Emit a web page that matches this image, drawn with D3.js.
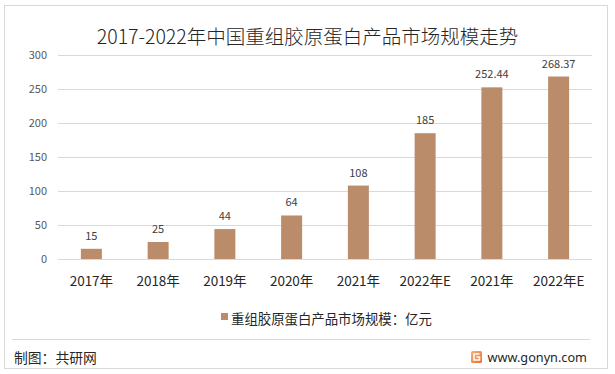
<!DOCTYPE html>
<html>
<head>
<meta charset="utf-8">
<script src="https://cdn.jsdelivr.net/npm/d3@7/dist/d3.min.js"></script>
<style>
  html, body { margin: 0; padding: 0; background: #fff; }
  svg { display: block; font-family: "Noto Sans CJK SC", "Noto Sans", sans-serif; }
</style>
</head>
<body>
<svg id="chart" width="615" height="374"></svg>
<script>
const title = "2017-2022年中国重组胶原蛋白产品市场规模走势";
const categories = ["2017年", "2018年", "2019年", "2020年", "2021年", "2022年E", "2021年", "2022年E"];
const values = [15, 25, 44, 64, 108, 185, 252.44, 268.37];
const yTicks = [0, 50, 100, 150, 200, 250, 300];
const seriesName = "重组胶原蛋白产品市场规模：亿元";
const footerLeft = "制图：共研网";
const footerRight = "www.gonyn.com";

const svg = d3.select("#chart");
const barColor = "#BB8C6A";

// outer border
svg.append("rect").attr("x", 4.5).attr("y", 5.5).attr("width", 603).attr("height", 363)
  .attr("fill", "#fff").attr("stroke", "#D9D9D9").attr("stroke-width", 1);

// title
svg.append("text").attr("x", 307.5).attr("y", 35).attr("text-anchor", "middle")
  .attr("dominant-baseline", "central").attr("font-size", 19.5).attr("fill", "#262626")
  .attr("font-weight", 300)
  .text(title);

const margin = { left: 58, right: 592, top: 55, bottom: 259 };
const x0 = d3.scaleBand().domain(d3.range(categories.length))
  .range([margin.left, margin.right]);
const y = d3.scaleLinear().domain([0, 300]).range([margin.bottom, margin.top]);

// gridlines
svg.append("g").selectAll("line").data(yTicks).join("line")
  .attr("x1", margin.left).attr("x2", margin.right)
  .attr("y1", d => Math.round(y(d)) + 0.5).attr("y2", d => Math.round(y(d)) + 0.5)
  .attr("stroke", "#D9D9D9").attr("stroke-width", 1);

// y axis labels
const yAxis = d3.axisLeft(y).tickValues(yTicks).tickSize(0).tickPadding(0);
const gy = svg.append("g").attr("transform", `translate(${47},0)`).call(yAxis);
gy.select(".domain").remove();
gy.selectAll("text").attr("font-size", 11).attr("fill", "#595959")
  .attr("font-family", "'Noto Sans CJK SC', sans-serif");

// bars
const bw = 21;
svg.append("g").selectAll("rect").data(values).join("rect")
  .attr("x", (d, i) => x0(i) + x0.bandwidth() / 2 - bw / 2)
  .attr("y", d => y(d))
  .attr("width", bw)
  .attr("height", d => y(0) - y(d))
  .attr("fill", barColor);

// value labels
svg.append("g").selectAll("text").data(values).join("text")
  .attr("x", (d, i) => x0(i) + x0.bandwidth() / 2)
  .attr("y", d => y(d) - 9)
  .attr("text-anchor", "middle").attr("font-size", 11).attr("fill", "#404040")
  .text(d => d);

// x axis labels
const xAxis = d3.axisBottom(x0).tickFormat(i => categories[i]).tickSize(0).tickPadding(0);
const gx = svg.append("g").attr("transform", `translate(0,${276})`).call(xAxis);
gx.select(".domain").remove();
gx.selectAll("text").attr("font-size", 13.5).attr("fill", "#262626")
  .attr("font-family", "'Noto Sans CJK SC', sans-serif").attr("dy", "0.71em");

// legend
svg.append("rect").attr("x", 221).attr("y", 313).attr("width", 7).attr("height", 7).attr("fill", barColor);
svg.append("text").attr("x", 231).attr("y", 318).attr("dominant-baseline", "central")
  .attr("font-size", 13.4).attr("fill", "#262626").text(seriesName);

// footer separator
svg.append("line").attr("x1", 12).attr("x2", 590).attr("y1", 339.5).attr("y2", 339.5)
  .attr("stroke", "#D9D9D9").attr("stroke-width", 1);

svg.append("text").attr("x", 14).attr("y", 357).attr("dominant-baseline", "central")
  .attr("font-size", 13.8).attr("fill", "#262626").text(footerLeft);

// logo
const defs = svg.append("defs");
const grad = defs.append("linearGradient").attr("id", "lg").attr("x1", 0).attr("y1", 0).attr("x2", 1).attr("y2", 1);
grad.append("stop").attr("offset", "0%").attr("stop-color", "#F9B56A");
grad.append("stop").attr("offset", "100%").attr("stop-color", "#EE6A3C");
const lg = svg.append("g").attr("transform", "translate(471,351)");
lg.append("rect").attr("width", 11).attr("height", 12).attr("rx", 1.5).attr("fill", "url(#lg)");
lg.append("path").attr("d", "M8.5,3 H3 V9 H8.5 V6 H5.5").attr("fill", "none")
  .attr("stroke", "#fff").attr("stroke-width", 1.6);

svg.append("text").attr("x", 587).attr("y", 357).attr("dominant-baseline", "central")
  .attr("text-anchor", "end").attr("font-size", 12.7).attr("fill", "#262626")
  .attr("font-family", "'Noto Sans', sans-serif").text(footerRight);
</script>
</body>
</html>
